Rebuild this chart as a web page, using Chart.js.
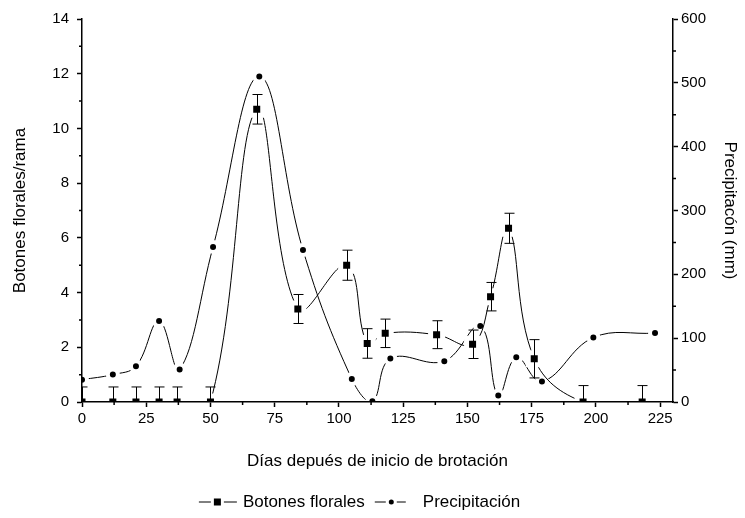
<!DOCTYPE html>
<html>
<head>
<meta charset="utf-8">
<script src="https://cdn.jsdelivr.net/npm/chart.js@4.4.0/dist/chart.umd.min.js"></script>
<style>
  html, body { margin: 0; padding: 0; background: #fff; }
</style>
</head>
<body>
<canvas id="grafico" width="745" height="518"></canvas>
<script>
// ===============================
// DATOS
// ===============================
const diasBotones = [0, 12, 21, 30, 37, 50, 68, 84, 103, 111, 118, 138, 152, 159, 166, 176, 195, 218];
const botones = [0, 0, 0, 0, 0, 0, 10.7, 3.4, 5.0, 2.14, 2.51, 2.46, 2.11, 3.85, 6.35, 1.58, 0, 0];
const erroresBotones = [0.55, 0.55, 0.55, 0.55, 0.55, 0.55, 0.54, 0.53, 0.55, 0.54, 0.52, 0.51, 0.52, 0.52, 0.55, 0.7, 0.6, 0.6];

const diasPrecip = [0, 12, 21, 30, 38, 51, 69, 86, 105, 113, 120, 141, 155, 162, 169, 179, 199, 223];
const precipitacion = [35, 43, 56, 127, 51, 243, 510, 238, 36, 1, 68, 64, 119, 10, 70, 32, 101, 108];

const ticksDias = [0, 25, 50, 75, 100, 125, 150, 175, 200, 225];
const ticksBotones = [0, 2, 4, 6, 8, 10, 12, 14];
const ticksPrecip = [0, 100, 200, 300, 400, 500, 600];

const FUENTE = "'Liberation Sans', Arial, sans-serif";
Chart.defaults.font.family = FUENTE;
Chart.defaults.color = "#000";

// ===============================
// PLUGINS
// ===============================
// barras de error de los botones florales
const barrasError = {
  id: "barrasError",
  afterDatasetsDraw(chart) {
    const { ctx, chartArea } = chart;
    const x = chart.scales.x;
    const y = chart.scales.y;
    ctx.save();
    ctx.beginPath();
    ctx.rect(chartArea.left, chartArea.top, chartArea.right - chartArea.left, chartArea.bottom - chartArea.top);
    ctx.clip();
    ctx.strokeStyle = "#000";
    ctx.lineWidth = 1;
    diasBotones.forEach((d, i) => {
      const px = Math.round(x.getPixelForValue(d)) + 0.5;
      const arriba = y.getPixelForValue(botones[i] + erroresBotones[i]);
      const abajo = y.getPixelForValue(botones[i] - erroresBotones[i]);
      ctx.beginPath();
      ctx.moveTo(px, arriba);
      ctx.lineTo(px, abajo);
      ctx.moveTo(px - 5, arriba);
      ctx.lineTo(px + 5, arriba);
      ctx.moveTo(px - 5, abajo);
      ctx.lineTo(px + 5, abajo);
      ctx.stroke();
    });
    ctx.restore();
  }
};

// ticks menores (mas cortos)
const ticksMenores = {
  id: "ticksMenores",
  afterDraw(chart) {
    const { ctx, chartArea } = chart;
    ctx.save();
    ctx.strokeStyle = "#000";
    ctx.lineWidth = 1.5;
    ctx.beginPath();
    chart.scales.x.ticks.forEach(t => {
      if (t.label !== "") return;
      const px = chart.scales.x.getPixelForValue(t.value);
      ctx.moveTo(px, chartArea.bottom);
      ctx.lineTo(px, chartArea.bottom + 3);
    });
    chart.scales.y.ticks.forEach(t => {
      if (t.label !== "") return;
      const py = chart.scales.y.getPixelForValue(t.value);
      ctx.moveTo(chartArea.left, py);
      ctx.lineTo(chartArea.left - 3, py);
    });
    chart.scales.y1.ticks.forEach(t => {
      if (t.label !== "") return;
      const py = chart.scales.y1.getPixelForValue(t.value);
      ctx.moveTo(chartArea.right, py);
      ctx.lineTo(chartArea.right + 3, py);
    });
    ctx.stroke();
    ctx.restore();
  }
};

// leyenda abajo: linea + marcador + texto
const leyenda = {
  id: "leyenda",
  afterDraw(chart) {
    const { ctx, chartArea } = chart;
    const y = 502;
    ctx.save();
    ctx.font = "17px " + FUENTE;
    ctx.textBaseline = "middle";
    ctx.fillStyle = "#000";
    ctx.strokeStyle = "#000";
    ctx.lineWidth = 1;

    const txt1 = chart.data.datasets[0].label;
    const txt2 = chart.data.datasets[1].label;
    const ancho = 38 + 6 + ctx.measureText(txt1).width + 10 + 31 + 17 + ctx.measureText(txt2).width;
    let x = (chartArea.left + chartArea.right) / 2 - 18 - ancho / 2;

    // Botones florales
    ctx.beginPath();
    ctx.moveTo(x, y); ctx.lineTo(x + 12, y);
    ctx.moveTo(x + 25, y); ctx.lineTo(x + 38, y);
    ctx.stroke();
    ctx.fillRect(x + 15, y - 3.5, 7, 7);
    x += 44;
    ctx.fillText(txt1, x, y);
    x += ctx.measureText(txt1).width + 10;

    // Precipitacion
    ctx.beginPath();
    ctx.moveTo(x, y); ctx.lineTo(x + 11, y);
    ctx.moveTo(x + 22, y); ctx.lineTo(x + 31, y);
    ctx.stroke();
    ctx.beginPath();
    ctx.arc(x + 16.5, y, 2.5, 0, Math.PI * 2);
    ctx.fill();
    x += 48;
    ctx.fillText(txt2, x, y);
    ctx.restore();
  }
};

// ===============================
// GRAFICO
// ===============================
const ctx = document.getElementById("grafico").getContext("2d");
const grafico = new Chart(ctx, {
  type: "line",
  data: {
    datasets: [
      {
        label: "Botones florales",
        data: diasBotones.map((d, i) => ({ x: d, y: botones[i] })),
        yAxisID: "y",
        borderColor: "#000",
        borderWidth: 1,
        tension: 0.4,
        pointStyle: "rect",
        pointRadius: 8.5,
        pointBackgroundColor: "#000",
        pointBorderColor: "#fff",
        pointBorderWidth: 5,
        fill: false
      },
      {
        label: "Precipitación",
        data: diasPrecip.map((d, i) => ({ x: d, y: precipitacion[i] })),
        yAxisID: "y1",
        borderColor: "#000",
        borderWidth: 1,
        tension: 0.4,
        pointStyle: "circle",
        pointRadius: 5,
        pointBackgroundColor: "#000",
        pointBorderColor: "#fff",
        pointBorderWidth: 4,
        fill: false
      }
    ]
  },
  options: {
    responsive: false,
    animation: false,
    devicePixelRatio: 1,
    layout: { padding: { top: 19, bottom: 40, left: 0, right: 0 } },
    elements: { line: { capBezierPoints: false } },
    plugins: {
      legend: { display: false },
      tooltip: { enabled: false }
    },
    scales: {
      x: {
        type: "linear",
        min: 0,
        max: 230,
        afterFit: s => { s.height = 76; },
        border: { display: true, color: "#000", width: 1.5, z: 1 },
        grid: {
          drawOnChartArea: false,
          tickLength: 5,
          tickWidth: 1.5,
          tickColor: c => (c.tick && ticksDias.includes(c.tick.value) ? "#000" : "rgba(0,0,0,0)")
        },
        ticks: {
          stepSize: 12.5,
          includeBounds: false,
          autoSkip: false,
          maxRotation: 0,
          padding: 3,
          font: { size: 15 },
          callback: v => (ticksDias.includes(v) ? v : "")
        },
        title: {
          display: true,
          text: "Días depués de inicio de brotación",
          font: { size: 17 },
          padding: { top: 0, bottom: 6 }
        }
      },
      y: {
        type: "linear",
        position: "left",
        min: 0,
        max: 14,
        afterFit: s => { s.width = 82; },
        border: { display: true, color: "#000", width: 1.5, z: 1 },
        grid: {
          drawOnChartArea: false,
          tickLength: 5,
          tickWidth: 1.5,
          tickColor: c => (c.tick && ticksBotones.includes(c.tick.value) ? "#000" : "rgba(0,0,0,0)")
        },
        ticks: {
          stepSize: 1,
          autoSkip: false,
          padding: 8,
          font: { size: 15 },
          callback: v => (ticksBotones.includes(v) ? v : "")
        },
        title: {
          display: true,
          text: "Botones florales/rama",
          font: { size: 17 },
          padding: { top: 10, bottom: 0 }
        }
      },
      y1: {
        type: "linear",
        position: "right",
        min: 0,
        max: 600,
        afterFit: s => { s.width = 72; },
        border: { display: true, color: "#000", width: 1.5, z: 1 },
        grid: {
          drawOnChartArea: false,
          tickLength: 5,
          tickWidth: 1.5,
          tickColor: c => (c.tick && ticksPrecip.includes(c.tick.value) ? "#000" : "rgba(0,0,0,0)")
        },
        ticks: {
          stepSize: 50,
          autoSkip: false,
          padding: 3,
          font: { size: 15 },
          callback: v => (ticksPrecip.includes(v) ? v : "")
        },
        title: {
          display: true,
          text: "Precipitacón (mm)",
          font: { size: 17 },
          padding: { top: 5, bottom: 0 }
        }
      }
    }
  },
  plugins: [barrasError, ticksMenores, leyenda]
});
</script>
</body>
</html>
